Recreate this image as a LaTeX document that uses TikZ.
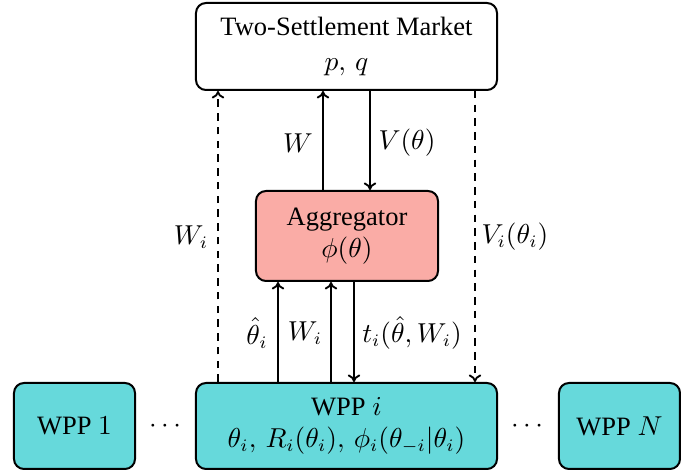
\documentclass[tikz,border=0pt]{standalone}
\usepackage{fontspec}
\setmainfont{Liberation Serif}
\usetikzlibrary{arrows.meta}
\definecolor{aggfill}{RGB}{250,172,166}
\definecolor{wppfill}{RGB}{102,217,219}
\begin{document}
\begin{tikzpicture}[x=0.4pt,y=-0.4pt,
  every node/.style={font=\fontsize{10.6}{13}\selectfont},
  box/.style={draw,line width=0.8pt,rounded corners=4pt,align=center,inner sep=0pt},
  conn/.style={line width=0.75pt,-{To[length=3pt,width=5pt]}},
  dconn/.style={conn,dashed,dash pattern=on 3pt off 2.5pt},
  lbl/.style={inner sep=0pt}]
\useasboundingbox (0,0) rectangle (696,470);
\node[box,minimum width=120.4pt,minimum height=34.8pt] (top) at (346.5,46.5)
  {Two-Settlement Market\\[1pt] $p,\,q$};
\node[box,fill=aggfill,minimum width=72.8pt,minimum height=36pt] (agg) at (347,236)
  {Aggregator\\ $\phi(\theta)$};
\node[box,fill=wppfill,minimum width=120.4pt,minimum height=34.4pt] (wppi) at (346.5,426)
  {WPP $i$\\ $\theta_i,\,R_i(\theta_i),\,\phi_i(\theta_{-i}|\theta_i)$};
\node[box,fill=wppfill,minimum width=48.4pt,minimum height=34.4pt] (wpp1) at (74.5,426) {WPP $1$};
\node[box,fill=wppfill,minimum width=48.4pt,minimum height=34.4pt] (wppn) at (619.5,426) {WPP $N$};
\node[lbl] (dl) at (165,426) {$\cdots$};
\node[lbl] (dr) at (527,426) {$\cdots$};
\coordinate (xa) at (218,0);
\coordinate (xb) at (475,0);
\coordinate (xc) at (323,0);
\coordinate (xd) at (370,0);
\coordinate (xe) at (278,0);
\coordinate (xf) at (331,0);
\coordinate (xg) at (354,0);
\draw[dconn] (wppi.north -| xa) -- (top.south -| xa);
\draw[dconn] (top.south -| xb) -- (wppi.north -| xb);
\draw[conn] (agg.north -| xc) -- (top.south -| xc);
\draw[conn] (top.south -| xd) -- (agg.north -| xd);
\draw[conn] (wppi.north -| xe) -- (agg.south -| xe);
\draw[conn] (wppi.north -| xf) -- (agg.south -| xf);
\draw[conn] (agg.south -| xg) -- (wppi.north -| xg);
\node[lbl] (l1) at (191,237) {$W_i$};
\node[lbl] (l2) at (515,237) {$V_i(\theta_i)$};
\node[lbl] (l3) at (298,143) {$W$};
\node[lbl] (l4) at (407,143) {$V(\theta)$};
\node[lbl] (l5) at (257,333) {$\hat\theta_i$};
\node[lbl] (l6) at (305,333) {$W_i$};
\node[lbl] (l7) at (412,333) {$t_i(\hat\theta,W_i)$};
\end{tikzpicture}
\end{document}
